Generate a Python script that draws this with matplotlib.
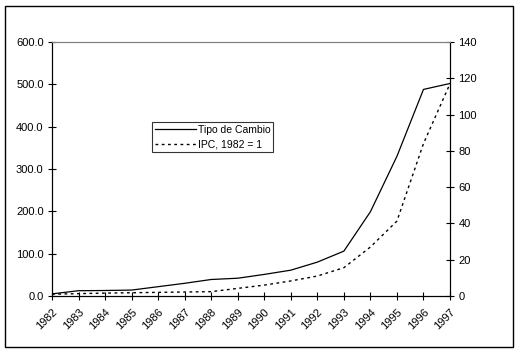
import matplotlib
matplotlib.use("Agg")
from matplotlib import pyplot as plt
from matplotlib.patches import Rectangle

plt.rcParams['font.family'] = ['Liberation Sans', 'DejaVu Sans']
plt.rcParams['font.size'] = 8

years = [str(y) for y in range(1982, 1998)]
tipo_cambio = [5, 12.5, 13, 14, 22, 30, 39, 42, 51, 61, 80, 106,
               199, 330, 488, 502]
ipc = [1, 1.3, 1.6, 1.8, 2.0, 2.2, 2.4, 4.2, 6.0, 8.3, 11, 15.6,
       27, 41.3, 84, 117]

fig = plt.figure(figsize=(5.23, 3.52), dpi=100)
ax = fig.add_axes([52 / 523, 56 / 352, 398 / 523, 254 / 352])
ax2 = ax.twinx()

x = list(range(len(years)))
l1, = ax.plot(x, tipo_cambio, color='k', lw=0.9, label='Tipo de Cambio')
l2, = ax2.plot(x, ipc, color='k', lw=1.0, ls=(0, (2, 2.5)),
               label='IPC, 1982 = 1')

ax.set_xlim(0, 15)
ax.set_ylim(0, 600)
ax2.set_ylim(0, 140)
ax.set_yticks(range(0, 601, 100))
ax.set_yticklabels(['%.1f' % v for v in range(0, 601, 100)])
ax2.set_yticks(range(0, 141, 20))
ax.set_xticks(x)
ax.set_xticklabels(years, rotation=45, ha='right', va='top',
                   rotation_mode='anchor')

for a in (ax, ax2):
    a.spines['top'].set_color('#808080')
    a.spines['top'].set_linewidth(0.8)
    a.tick_params(direction='inout', length=6, width=0.8, pad=3)
ax.tick_params(axis='x', pad=5)

leg = ax.legend(handles=[l1, l2], loc='upper left',
                bbox_to_anchor=(0.251, 0.685), frameon=True, fancybox=False,
                edgecolor='k', handlelength=4.0, handletextpad=0.15,
                borderpad=0.25, borderaxespad=0, labelspacing=0.45,
                fontsize=7.5)
leg.get_frame().set_linewidth(0.8)

fig.patches.append(Rectangle((5 / 523, 5.5 / 352), 508 / 523, 341 / 352,
                             transform=fig.transFigure, fill=False,
                             edgecolor='k', lw=1.0))

fig.savefig('out.png', dpi=100)
